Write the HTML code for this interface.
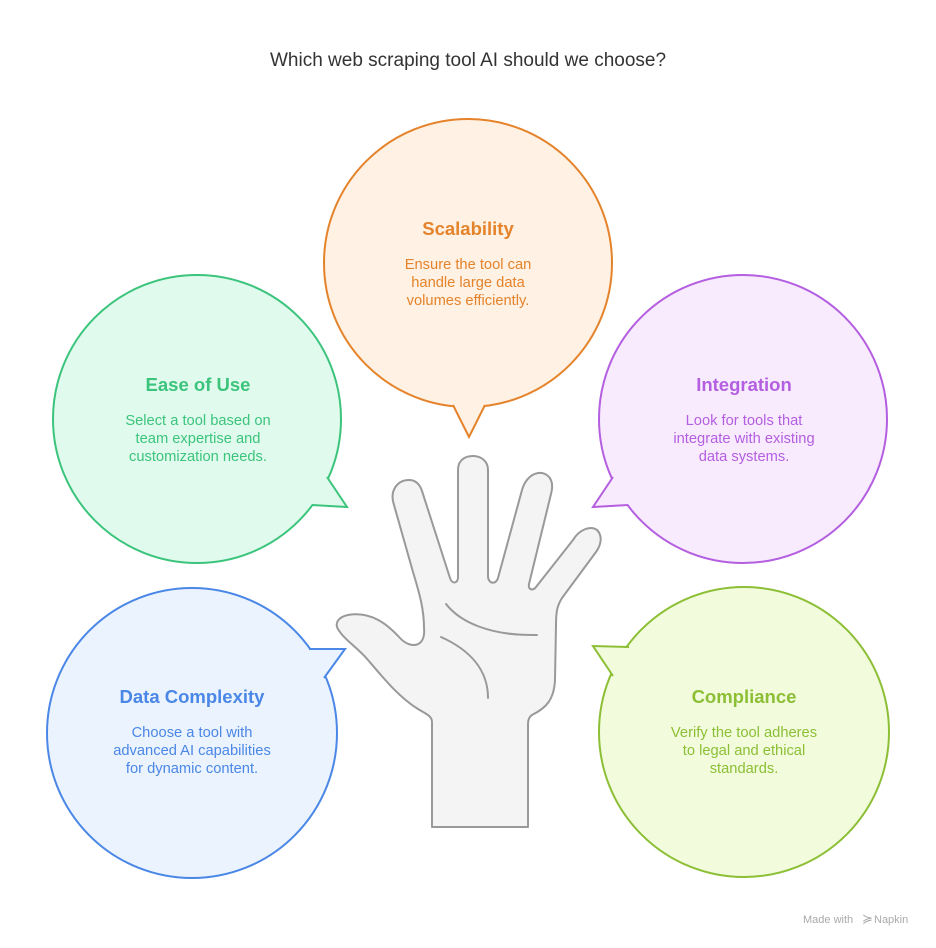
<!DOCTYPE html>
<html><head><meta charset="utf-8"><style>
html,body{margin:0;padding:0;background:#fff;}
svg{display:block;}
text{font-family:"Liberation Sans",sans-serif;}
.t{font-size:18.5px;font-weight:bold;text-anchor:middle;}
.b{font-size:14.7px;text-anchor:middle;}
</style></head><body>
<svg width="936" height="948" viewBox="0 0 936 948" xmlns="http://www.w3.org/2000/svg">
<rect width="936" height="948" fill="#fff"/>
<text x="468" y="66" font-size="19" fill="#333" text-anchor="middle">Which web scraping tool AI should we choose?</text>

<!-- Scalability -->
<circle cx="468" cy="263" r="144" stroke="#e5832b" stroke-width="2" fill="#fff1e3"/>
<polygon points="453,405 469,437 485,405 469,390" fill="#fff1e3"/>
<polyline points="453,405 469,437 485,405" fill="none" stroke="#e5832b" stroke-width="2"/>
<g fill="#e5832b">
<text class="t" x="468" y="235">Scalability</text>
<text class="b" x="468" y="269">Ensure the tool can</text>
<text class="b" x="468" y="287">handle large data</text>
<text class="b" x="468" y="305">volumes efficiently.</text>
</g>

<!-- Ease of Use -->
<circle cx="197" cy="419" r="144" stroke="#3cc47c" stroke-width="2" fill="#e0fbee"/>
<polygon points="327,477 347,507 312,505 305,480" fill="#e0fbee"/>
<polyline points="327,477 347,507 312,505" fill="none" stroke="#3cc47c" stroke-width="2"/>
<g fill="#3cc47c">
<text class="t" x="198" y="391">Ease of Use</text>
<text class="b" x="198" y="425">Select a tool based on</text>
<text class="b" x="198" y="443">team expertise and</text>
<text class="b" x="198" y="461">customization needs.</text>
</g>

<!-- Integration -->
<circle cx="743" cy="419" r="144" stroke="#b45ee0" stroke-width="2" fill="#f8ebfe"/>
<polygon points="613,477 593,507 628,505 635,480" fill="#f8ebfe"/>
<polyline points="613,477 593,507 628,505" fill="none" stroke="#b45ee0" stroke-width="2"/>
<g fill="#b45ee0">
<text class="t" x="744" y="391">Integration</text>
<text class="b" x="744" y="425">Look for tools that</text>
<text class="b" x="744" y="443">integrate with existing</text>
<text class="b" x="744" y="461">data systems.</text>
</g>

<!-- Data Complexity -->
<circle cx="192" cy="733" r="145" stroke="#4a87e6" stroke-width="2" fill="#ebf3fe"/>
<polygon points="309,649 345,649 324,678 300,670" fill="#ebf3fe"/>
<polyline points="309,649 345,649 324,678" fill="none" stroke="#4a87e6" stroke-width="2"/>
<g fill="#4a87e6">
<text class="t" x="192" y="703">Data Complexity</text>
<text class="b" x="192" y="737">Choose a tool with</text>
<text class="b" x="192" y="755">advanced AI capabilities</text>
<text class="b" x="192" y="773">for dynamic content.</text>
</g>

<!-- Compliance -->
<circle cx="744" cy="732" r="145" stroke="#8cbf35" stroke-width="2" fill="#f2fcdd"/>
<polygon points="629,647 593,646 613,676 637,668" fill="#f2fcdd"/>
<polyline points="629,647 593,646 613,676" fill="none" stroke="#8cbf35" stroke-width="2"/>
<g fill="#8cbf35">
<text class="t" x="744" y="703">Compliance</text>
<text class="b" x="744" y="737">Verify the tool adheres</text>
<text class="b" x="744" y="755">to legal and ethical</text>
<text class="b" x="744" y="773">standards.</text>
</g>

<!-- Hand -->
<path d="M432,827 L432,722 C432,716 426,714 418,709 C400,698 385,680 368,660 C358,648 345,640 340,632 C333,624 338,617 348,615 C372,611 388,625 400,638 C410,649 426,648 424,628 C424,610 420,595 413,572 L394,505 C389,490 398,480 409,480 C416,480 420,485 422,491 L450,578 C452,584 457,584 458,578 L458,470 C458,460 465,456 473,456 C481,456 488,461 488,470 L488,576 C488,584 496,585 498,578 L522,490 C525,479 533,472 542,473 C551,475 554,483 551,494 L529,584 C528,590 533,591 536,587 L573,540 C579,530 590,525 597,530 C603,536 601,545 596,552 L562,598 C557,606 556,612 556,625 L555,680 C554,700 546,708 532,715 C529,717 528,720 528,724 L528,827 Z" fill="#f4f4f4" stroke="#999" stroke-width="2" stroke-linejoin="round"/>
<path d="M446,604 C460,622 490,636 537,635" fill="none" stroke="#999" stroke-width="2" stroke-linecap="round"/>
<path d="M441,637 C470,650 488,670 488,698" fill="none" stroke="#999" stroke-width="2" stroke-linecap="round"/>

<text x="803" y="923" font-size="11" fill="#aaa">Made with</text>
<text x="862" y="923" font-size="13" fill="#aaa">≽</text>
<text x="874" y="923" font-size="11" fill="#aaa">Napkin</text>
</svg>
</body></html>
